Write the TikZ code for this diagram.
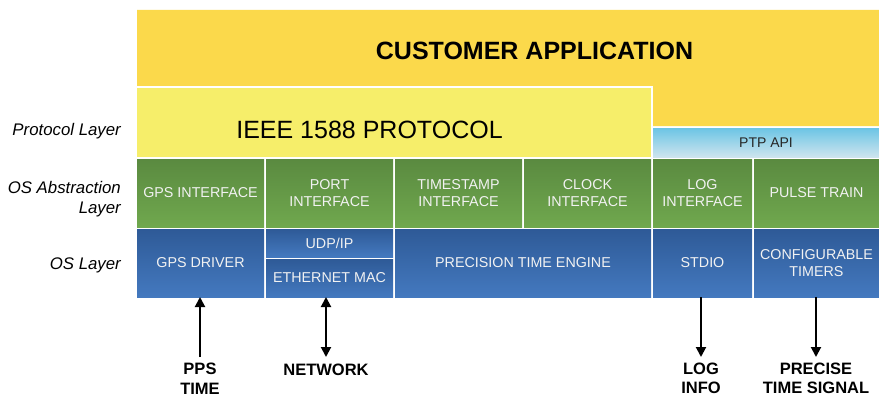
\documentclass[tikz,border=0pt]{standalone}
\usepackage{fontspec}
\setmainfont{Liberation Sans}
\usetikzlibrary{arrows.meta}
\definecolor{custY}{HTML}{FBD94B}
\definecolor{ieeeY}{HTML}{F6EE6A}
\definecolor{grTop}{HTML}{5A8A40}
\definecolor{grBot}{HTML}{70A84E}
\definecolor{blTop}{HTML}{2E5A97}
\definecolor{blBot}{HTML}{4479BF}
\definecolor{ptpTop}{HTML}{6CC5E5}
\definecolor{ptpBot}{HTML}{CDE4EE}
\definecolor{cellTxt}{HTML}{F2F2F2}
\tikzset{
  x=1pt,y=-1pt,
  cellbase/.style={inner sep=0pt,outer sep=0pt,align=center,text=cellTxt,
    font=\fontsize{14.3}{16.7}\selectfont},
  greencell/.style={cellbase,top color=grTop,bottom color=grBot,
    minimum height=68pt},
  bluecell/.style={cellbase,top color=blTop,bottom color=blBot},
  layerlbl/.style={anchor=east,align=right,inner sep=0pt,
    font=\fontsize{16.8}{20}\selectfont\itshape},
  outlbl/.style={align=center,inner sep=0pt,
    font=\fontsize{16.5}{19.5}\selectfont\bfseries},
  arr/.style={line width=2pt,-{Triangle[width=10pt,length=10pt]}},
  darr/.style={line width=2pt,{Triangle[width=10pt,length=10pt]}-{Triangle[width=10pt,length=10pt]}},
}
\begin{document}
\begin{tikzpicture}
\useasboundingbox (0,0) rectangle (879,396);
% customer application (L shape)
\fill[custY] (137,10) -- (879,10) -- (879,126) -- (653,126) -- (653,86) -- (137,86) -- cycle;
\node[inner sep=0pt,font=\fontsize{25}{28}\selectfont\bfseries] (cust) at (534.5,51) {CUSTOMER APPLICATION};
% IEEE 1588
\fill[ieeeY] (137,88) rectangle (651,157);
\node[inner sep=0pt,font=\fontsize{25}{28}\selectfont] (ieee) at (369.5,130) {IEEE 1588 PROTOCOL};
% PTP API
\node[cellbase,text=black!85,top color=ptpTop,bottom color=ptpBot,
  minimum width=226pt,minimum height=29pt,font=\fontsize{14}{16}\selectfont] (ptp) at (766,142.5) {PTP API};
% green row
\node[greencell,minimum width=127pt] (gpsif) at (200.5,193) {GPS INTERFACE};
\node[greencell,minimum width=127pt] (portif) at (329.5,193) {PORT\\INTERFACE};
\node[greencell,minimum width=127pt] (tsif) at (458.5,193) {TIMESTAMP\\INTERFACE};
\node[greencell,minimum width=127pt] (clkif) at (587.5,193) {CLOCK\\INTERFACE};
\node[greencell,minimum width=99pt] (logif) at (702.5,193) {LOG\\INTERFACE};
\node[greencell,minimum width=125pt] (pulse) at (816.5,193) {PULSE TRAIN};
% blue row
\node[bluecell,minimum width=127pt,minimum height=68pt] (gpsdrv) at (200.5,263) {GPS DRIVER};
\node[bluecell,minimum width=127pt,minimum height=28pt] (udp) at (329.5,243) {UDP/IP};
\node[bluecell,minimum width=127pt,minimum height=38pt] (eth) at (329.5,278) {ETHERNET MAC};
\node[bluecell,minimum width=256pt,minimum height=68pt] (pte) at (523,263) {PRECISION TIME ENGINE};
\node[bluecell,minimum width=99pt,minimum height=68pt] (stdio) at (702.5,263) {STDIO};
\node[bluecell,minimum width=125pt,minimum height=68pt] (timers) at (816.5,263) {CONFIGURABLE\\TIMERS};
% layer labels
\node[layerlbl] (lp) at (121,131) {Protocol Layer};
\node[layerlbl] (la) at (121,199) {OS Abstraction\\Layer};
\node[layerlbl] (lo) at (121,265) {OS Layer};
% arrows and output labels
\coordinate (ppsA) at (200,357);
\coordinate (netA) at (326,357);
\coordinate (logA) at (701,357);
\coordinate (preA) at (816,357);
\draw[arr] (ppsA) -- (ppsA |- gpsdrv.south);
\draw[darr] (netA) -- (netA |- eth.south);
\draw[arr] (logA |- stdio.south) -- (logA);
\draw[arr] (preA |- timers.south) -- (preA);
\node[outlbl] (pps) at (200,378.5) {PPS\\TIME};
\node[outlbl] (net) at (326,369.5) {NETWORK};
\node[outlbl] (log) at (701,378.5) {LOG\\INFO};
\node[outlbl] (pre) at (816,378.5) {PRECISE\\TIME SIGNAL};
\end{tikzpicture}
\end{document}
